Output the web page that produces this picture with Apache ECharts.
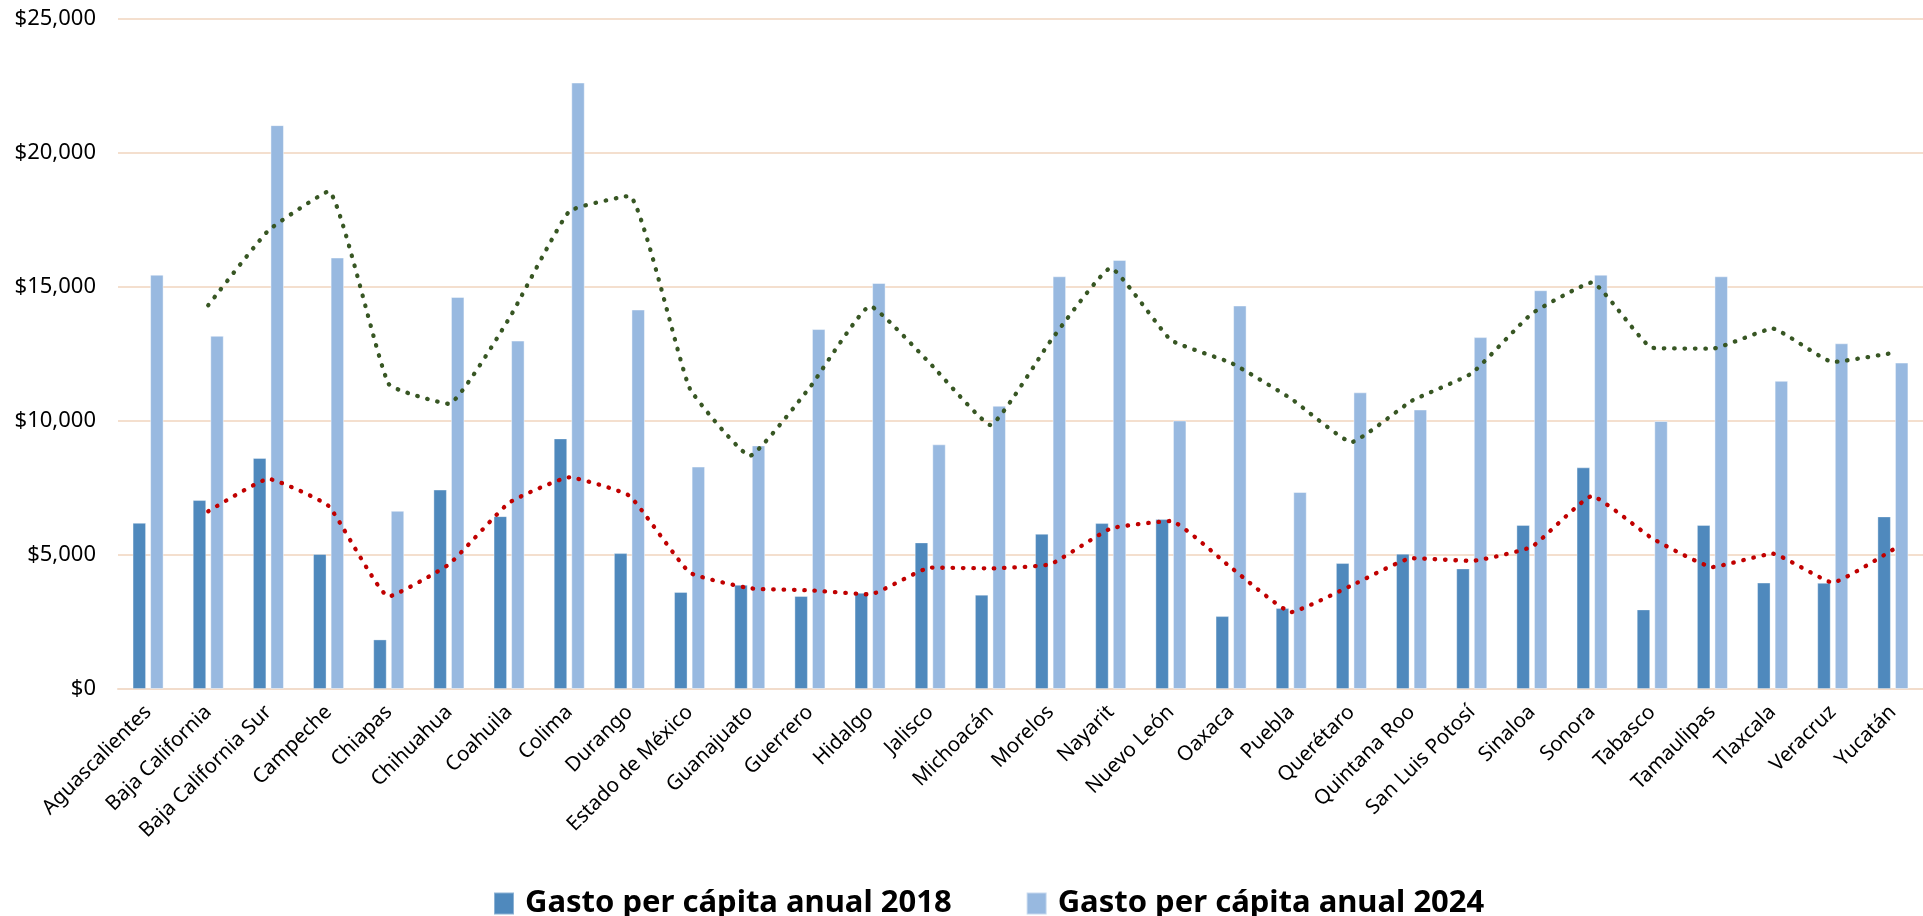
<!DOCTYPE html>
<html>
<head>
    <meta charset="utf-8">
    <title>Gasto per cápita anual por estado</title>
    <script type="text/javascript" src="https://cdn.jsdelivr.net/npm/echarts@6/dist/echarts.min.js"></script>
    <style>
        body {
            margin: 0px;
            padding: 0px;
            background: #fff;
        }

        #chartRegion {
            width: 1923px;
            height: 916px;
        }
    </style>
</head>
<body>
<div id="chartRegion"></div>
</body>
</html>
<script type="text/javascript">
    var estados = ['Aguascalientes', 'Baja California', 'Baja California Sur', 'Campeche', 'Chiapas',
        'Chihuahua', 'Coahuila', 'Colima', 'Durango', 'Estado de México', 'Guanajuato', 'Guerrero',
        'Hidalgo', 'Jalisco', 'Michoacán', 'Morelos', 'Nayarit', 'Nuevo León', 'Oaxaca', 'Puebla',
        'Querétaro', 'Quintana Roo', 'San Luis Potosí', 'Sinaloa', 'Sonora', 'Tabasco', 'Tamaulipas',
        'Tlaxcala', 'Veracruz', 'Yucatán'];

    var gasto2018 = [6200, 7050, 8620, 5040, 1850, 7440, 6450, 9350, 5070, 3620, 3890, 3470, 3590, 5470, 3520,
        5790, 6190, 6340, 2720, 3020, 4700, 5050, 4500, 6120, 8270, 2970, 6120, 3970, 3960, 6440];

    var gasto2024 = [15460, 13180, 21040, 16100, 6650, 14630, 13000, 22630, 14160, 8300, 9090, 13430, 15150, 9130, 10570,
        15400, 16010, 10020, 14310, 7350, 11070, 10430, 13130, 14880, 15460, 10000, 15400, 11500, 12900, 12180];

    // lineas de tendencia punteadas, sin valor en el primer estado
    var tendencia2018 = ['-', 6630, 7840, 6830, 3450, 4650, 6950, 7900, 7210, 4350, 3760, 3680, 3530, 4530, 4500,
        4660, 5990, 6270, 4530, 2870, 3860, 4880, 4780, 5310, 7200, 5620, 4550, 5050, 3970, 5200];

    var tendencia2024 = ['-', 14320, 17110, 18570, 11380, 10640, 13820, 17820, 18400, 11230, 8700, 11260, 14290, 12140, 9850,
        12990, 15710, 13020, 12170, 10830, 9210, 10750, 11780, 14010, 15170, 12730, 12700, 13450, 12200, 12540];

    var yTicks = {min: 0, max: 25000, interval: 5000};

    var fuente = 'Noto Sans';

    function initChart() {
        var chart = echarts.init(document.getElementById('chartRegion'));
        var option = {
            animation: false,
            textStyle: {fontFamily: fuente},
            grid: {
                left: 118,
                top: 19,
                width: 1816,
                height: 670,
                containLabel: false
            },
            legend: {
                data: ['Gasto per cápita anual 2018', 'Gasto per cápita anual 2024'],
                left: 488,
                top: 883,
                itemWidth: 20,
                itemHeight: 22,
                itemGap: 74,
                icon: 'rect',
                textStyle: {
                    fontFamily: fuente,
                    fontSize: 31,
                    fontWeight: 'bold',
                    color: '#000',
                    padding: [0, 0, 0, 6]
                }
            },
            xAxis: {
                type: 'category',
                data: estados,
                axisTick: {show: false},
                axisLine: {lineStyle: {color: '#F2DCCB', width: 2}},
                axisLabel: {
                    interval: 0,
                    rotate: 45,
                    margin: 20,
                    fontSize: 20.5,
                    color: '#000',
                    fontFamily: fuente
                }
            },
            yAxis: {
                type: 'value',
                min: yTicks.min,
                max: yTicks.max,
                interval: yTicks.interval,
                axisLine: {show: false},
                axisTick: {show: false},
                splitLine: {lineStyle: {color: '#F4DFCE', width: 2}},
                axisLabel: {
                    margin: 22,
                    fontSize: 22,
                    color: '#000',
                    fontFamily: fuente,
                    formatter: function (v) {
                        return '$' + v.toLocaleString('en-US');
                    }
                }
            },
            series: [
                {
                    name: 'Gasto per cápita anual 2018',
                    type: 'bar',
                    data: gasto2018,
                    barWidth: 13.5,
                    barGap: '30%',
                    itemStyle: {color: '#4F89BD', borderColor: 'rgba(255,255,255,0.35)', borderWidth: 1}
                },
                {
                    name: 'Gasto per cápita anual 2024',
                    type: 'bar',
                    data: gasto2024,
                    barWidth: 13.5,
                    itemStyle: {color: '#98B9E0', borderColor: 'rgba(255,255,255,0.45)', borderWidth: 1}
                },
                {
                    name: 'Tendencia 2024',
                    type: 'line',
                    data: tendencia2024,
                    smooth: 0.12,
                    symbol: 'none',
                    z: 5,
                    lineStyle: {color: '#375623', width: 4.3, type: [0.5, 9.8], cap: 'round'}
                },
                {
                    name: 'Tendencia 2018',
                    type: 'line',
                    data: tendencia2018,
                    smooth: 0.12,
                    symbol: 'none',
                    z: 5,
                    lineStyle: {color: '#C00000', width: 4.3, type: [0.5, 9.8], cap: 'round'}
                }
            ]
        };
        chart.setOption(option);
    }

    initChart();
</script>
